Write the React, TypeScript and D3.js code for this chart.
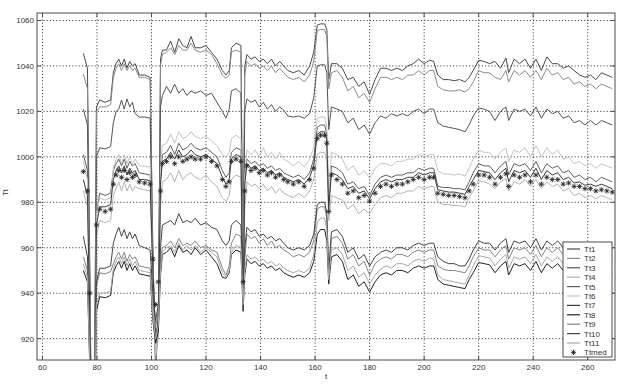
import React from 'react';
import * as d3 from 'd3';

const tValues = [
  75, 76.5, 77.3, 78, 79, 79.8, 81, 83, 85, 86,
  87, 88, 89, 90, 91, 92, 93, 94, 95.5, 97.5,
  99.5, 100.5, 101.5, 102.5, 103.3, 104, 105.5, 107, 108.5, 110,
  111.5, 113, 114.5, 116, 118, 120, 122, 124, 126, 127.3,
  128.5, 129.3, 131, 132.8, 133.6, 134.2, 135, 136.5, 138, 139.5,
  141, 142.5, 144, 145.5, 147, 148.5, 150, 152, 154, 156,
  158, 159.5, 160.8, 162, 163.5, 164.3, 165, 166, 168, 170,
  172, 174, 176, 178, 180, 182, 184, 186, 188, 190,
  192, 194, 196, 198, 200, 202, 203.5, 205, 207, 209,
  211, 213, 215, 216.5, 218, 220, 222, 224, 226, 228,
  230, 231, 233, 235, 237, 239, 241, 243, 245, 247,
  249, 251, 253, 255, 257, 259, 261, 263, 265, 267,
  269,
];

const tt1 = [
  1045.5, 1039, 960, 880, 880, 1022, 1025, 1024, 1025, 1037,
  1041, 1043, 1040, 1043, 1039, 1042, 1040, 1041, 1036, 1036,
  1035, 960, 905, 930, 1043, 1047, 1047, 1051, 1046, 1052,
  1049, 1048, 1053, 1048, 1048, 1049, 1046, 1043, 1038, 1036,
  1038, 1048, 1050, 1049, 945, 1040, 1045, 1043, 1044, 1042,
  1043, 1041, 1043, 1040, 1042, 1040, 1038, 1037, 1038, 1036,
  1040, 1046, 1058, 1058.5, 1058.5, 1056, 1034, 1041, 1041, 1039,
  1034, 1035, 1031, 1033, 1027.5, 1034, 1039, 1039, 1038, 1039,
  1038, 1040, 1041, 1043, 1041, 1042.5, 1042, 1036, 1034, 1034,
  1033.5, 1034, 1033, 1035, 1038, 1042.5, 1042, 1041, 1042, 1039,
  1043.5, 1037, 1043, 1041, 1043, 1039, 1043, 1038, 1044, 1041,
  1041, 1039, 1040, 1038, 1036, 1035, 1036, 1034, 1037, 1036,
  1035,
];

const tt2 = [
  1036.5, 1030, 950, 875, 880, 1020, 1022, 1022, 1023, 1035,
  1039, 1041, 1038, 1041, 1038, 1040, 1038, 1039, 1035, 1035,
  1034, 955, 910, 925, 1040, 1045, 1046, 1048, 1045, 1049,
  1047, 1047, 1050, 1047, 1046, 1047, 1045, 1041, 1036, 1034.5,
  1036, 1046, 1047, 1046, 942, 1036, 1042, 1040, 1041, 1039,
  1040, 1038, 1040, 1037, 1039, 1037, 1035, 1034, 1035, 1033,
  1036, 1042, 1055.5, 1056, 1056, 1053, 1030, 1037, 1038, 1035,
  1029, 1031, 1026, 1028, 1024, 1030, 1035, 1035, 1034, 1035,
  1034, 1036, 1036, 1038, 1036, 1038, 1038, 1031, 1029.5, 1029,
  1029, 1029.5, 1028.5, 1030, 1033, 1038, 1037, 1037, 1035, 1034,
  1038, 1033, 1038, 1036, 1038, 1035, 1038, 1034, 1039, 1036,
  1037, 1034, 1035, 1032, 1033, 1031, 1032, 1030, 1032, 1031,
  1030,
];

const tt3 = [
  1021, 1014, 950, 878, 880, 1000, 1004, 1003.5, 1004.5, 1015,
  1020, 1021, 1025, 1021, 1025.5, 1022, 1024, 1019, 1017.5, 1017.5,
  1017, 950, 912, 928, 1022, 1027, 1031, 1028, 1032, 1028,
  1030, 1027, 1029, 1028, 1029, 1027, 1028, 1024, 1020, 1017,
  1021, 1029, 1030, 1028, 940, 1020, 1025.5, 1024, 1025, 1022,
  1024, 1021, 1023, 1020, 1022, 1020.5, 1018, 1017.5, 1018, 1017,
  1019, 1026, 1040, 1040.5, 1040.5, 1037, 1012, 1022, 1021, 1020,
  1015, 1017, 1012, 1014, 1010, 1015, 1018, 1017, 1019, 1018,
  1019, 1018, 1020, 1021, 1019, 1021, 1021, 1015, 1013.5, 1013,
  1012.5, 1012, 1011, 1014, 1018, 1021.5, 1021, 1020, 1016, 1020,
  1022, 1016, 1021, 1020, 1021, 1018, 1022, 1017, 1021, 1019,
  1020, 1017, 1018, 1015, 1016, 1014, 1016, 1014, 1016, 1015,
  1014,
];

const tt4 = [
  985, 978, 930, 875, 876, 965, 972, 971, 972, 983,
  986, 989, 985, 989, 985, 988, 985, 987, 986, 985.5,
  985, 940, 912, 920, 978, 989, 990, 993, 989, 994,
  990, 992, 993, 991, 990, 992, 989, 987, 982, 980.5,
  983, 990, 992, 991, 935, 978, 989, 987, 988, 986,
  988, 985, 987, 984, 986, 984, 983, 982, 984, 982,
  985, 990, 1001, 1002, 1002, 998, 972, 983, 982, 981,
  977, 979, 975, 977, 975, 979, 982, 983, 982, 984,
  984, 985, 985, 987, 986, 987, 987, 980, 979, 979,
  978.5, 978.5, 978, 982, 985, 989.5, 989, 988, 986, 989,
  990.5, 985, 989, 988, 990, 987, 990, 986, 989, 987,
  988, 985, 986, 983, 984, 982, 983, 981.5, 983, 982,
  981,
];

const tt5 = [
  1001, 994, 940, 878, 880, 975, 984, 983, 984, 994,
  997, 999, 996, 999, 995, 998, 996, 997, 993, 992.5,
  992, 955, 918, 930, 990, 1001, 1002, 1005, 1001, 1006,
  1003, 1004, 1006, 1004, 1003, 1004, 1002, 1000, 994, 991,
  993, 1002, 1004, 1003, 938, 990, 999, 997, 998, 996,
  997, 995, 996, 994, 995, 993, 992, 991, 992, 990,
  993, 999, 1013, 1014, 1014, 1010, 980, 996, 995, 993,
  988, 989, 986, 987, 983, 988, 991, 992, 991, 992,
  992, 993, 993, 995, 994, 995, 995, 987, 986.5, 986.5,
  986, 986, 985.5, 989, 993, 997, 996, 996, 993, 996,
  998, 992, 997, 996, 997, 994, 998, 993, 997, 995,
  996, 993, 994, 991, 992, 990, 991, 989, 991, 990,
  989,
];

const tt6 = [
  998, 990, 940, 876, 878, 975, 982, 981, 982, 995,
  999, 1001, 997, 1001, 997, 1000, 997, 999, 996, 996,
  995.5, 950, 913, 925, 995, 1005, 1006, 1010, 1006, 1011,
  1008, 1009, 1011, 1009, 1008, 1009, 1007, 1005, 1001, 1000,
  1002, 1008, 1009.5, 1008, 940, 992, 1003, 1001, 1003, 1000,
  1004, 1000, 1002, 999, 1002, 999, 998, 996, 998, 995.5,
  999, 1004, 1017, 1017.5, 1017.5, 1013, 983, 1002, 1001, 999,
  994, 996, 992, 994, 990.5, 995, 997, 997, 996, 998,
  998, 999, 999, 1001, 1000, 1001, 1001, 994, 992.5, 992.5,
  992, 992.5, 991.5, 995, 999, 1003, 1002, 1002, 999, 1002,
  1004, 998, 1003, 1002, 1004, 1000, 1005, 1000, 1004, 1001,
  1003, 999, 1000, 997, 998, 996, 997, 995, 997, 996,
  995,
];

const tt7 = [
  990, 983, 935, 876, 878, 970, 978, 978, 979, 990,
  994, 996, 993, 996, 992, 995, 993, 994, 990, 990,
  989.5, 950, 920, 928, 988, 998, 999, 1002, 999, 1003,
  1000, 1001, 1003, 1001, 1000, 1001, 999, 997, 991, 988,
  990, 999, 1001, 1000, 936, 988, 997, 995, 996, 994,
  995, 993, 994, 992, 993, 991, 990, 989, 990, 988,
  991, 996, 1010, 1011, 1011, 1007, 977, 993, 992, 990,
  986, 987, 984, 985, 981.5, 986, 989, 990, 989, 990,
  990, 991, 991, 993, 992, 993, 993, 985.5, 985, 984.5,
  984.5, 984, 983.5, 987, 990, 994, 993.5, 993, 990, 993,
  995, 989, 994, 993, 994, 991, 995, 990, 994, 992,
  993, 990, 991, 988.5, 989, 987.5, 988, 987, 988, 987,
  986,
];

const tt8 = [
  950, 945, 910, 866, 868, 932, 938.5, 938, 939, 949,
  952, 954, 951, 954, 950, 953, 950, 952, 948.5, 948,
  947.5, 928, 918, 923, 948, 957, 958, 960, 956, 961,
  958, 959, 957, 960, 957, 959, 956, 953, 947, 946.5,
  949, 957, 959, 958, 932, 948, 955, 953, 954, 952,
  953, 951, 952, 950, 951, 949, 948, 947, 948, 947,
  949, 954, 966, 968, 968, 963, 944, 956, 957, 954,
  946, 948, 943, 945, 940.5, 945, 948, 949, 948, 950,
  950, 949, 951, 952, 951, 952, 952, 946, 944, 943.5,
  943, 942.5, 942, 946, 949, 953.5, 953, 952.5, 949, 952,
  954, 948, 953, 952, 953, 950, 954, 949, 953, 951,
  953, 950, 951, 949, 950, 948, 950, 949, 950, 949,
  949,
];

const tt9 = [
  956, 950, 915, 870, 872, 943, 949, 948.5, 949.5, 953,
  956, 958, 955, 958, 954, 957, 955, 956, 952, 951.5,
  951, 935, 925, 932, 955, 960, 961, 963, 960, 964,
  961, 962, 961, 963, 960, 961, 959, 958, 951, 948,
  952, 962, 966, 965, 938, 955, 966, 964, 965, 962,
  964, 961, 963, 960, 961, 959, 958, 956, 957, 956,
  958, 963, 977, 978, 978, 973, 948, 964, 965, 962,
  955, 957, 952, 954, 948, 953, 955, 956, 955, 957,
  957, 956, 958, 959, 958, 959, 959, 952, 950.5, 950,
  950, 949.5, 949, 952, 956, 960, 959, 959, 956, 959,
  961, 955, 960, 959, 960, 957, 961, 956, 960, 958,
  960, 957, 958, 956, 957, 955, 957, 956, 957, 956,
  956,
];

const tt10 = [
  965, 956, 920, 870, 870, 945, 951, 951, 952, 962,
  966, 969, 965, 968, 964, 967, 964, 966, 961, 960,
  959, 940, 928, 935, 960, 970, 971, 972, 970, 975,
  971, 972, 971, 973, 970, 971, 969, 968, 963, 961,
  963, 970, 972, 970, 942, 960, 969, 967, 968, 965,
  966, 964, 965, 963, 964, 962, 960, 959, 960, 959,
  961, 966, 979, 980, 980, 975, 950, 967, 968, 965,
  958, 960, 955, 957, 952, 956, 958, 959, 958, 960,
  960, 959, 961, 962, 961, 962, 962, 956, 954, 953,
  953, 952, 952, 955, 959, 963, 962, 962, 959, 962,
  964, 958, 963, 962, 963, 960, 964, 959, 963, 961,
  963, 960, 961, 959, 960, 958, 960, 959, 960, 959,
  959,
];

const tt11 = [
  953, 947, 912, 868, 870, 935, 940, 940, 941, 951,
  954, 956, 953, 956, 952, 955, 952, 954, 950, 949.5,
  949, 930, 920, 926, 950, 958, 960, 961, 958, 962,
  959, 961, 959, 961, 958, 960, 958, 956, 949, 947,
  950, 958, 961, 960, 935, 950, 957, 955, 956, 954,
  955, 953, 954, 952, 953, 951, 950, 949, 950, 949,
  951, 957, 971, 973, 973, 968, 946, 959, 960, 957,
  950, 952, 947, 949, 944, 948, 950.5, 952, 951, 953,
  953, 952, 954, 955, 954, 955.5, 955, 948, 946, 945.5,
  945, 944.5, 944, 948, 952, 956.5, 956, 955.5, 952, 955,
  957, 951, 956, 955, 956, 953, 957, 952, 956, 954,
  956, 953, 954, 952, 953, 951, 953, 952, 953, 952,
  952,
];

const ttmed = [
  993.5, 985, 940, 880, 880, 970, 977, 976, 977, 988,
  992, 994, 991, 994, 990, 993, 991, 992, 989, 988.5,
  988, 955, 935, 945, 985, 997, 998, 1000, 997, 1000,
  998, 999, 1000, 999, 999, 1000, 998, 996, 990, 987,
  989, 998, 999, 998, 945, 985, 996, 994, 995, 993,
  994, 992, 993, 991, 992, 990, 989, 988, 989, 987,
  990, 995, 1008, 1009.5, 1009.5, 1006, 976, 992, 990, 988,
  984, 985, 982, 983, 980.5, 984, 987, 988, 987, 988,
  988, 989, 990, 991, 990, 991, 991, 984, 983.5, 983,
  983, 982.5, 982, 985, 988, 992, 992, 991, 988, 991,
  992.5, 987, 992, 991, 992, 989, 992, 988, 991, 990,
  990, 988, 988.5, 987, 987, 986, 986, 985, 985.5, 985,
  984.5,
];

const seriesNames = ['Tt1', 'Tt2', 'Tt3', 'Tt4', 'Tt5', 'Tt6', 'Tt7', 'Tt8', 'Tt9', 'Tt10', 'Tt11'];
const seriesValues = [tt1, tt2, tt3, tt4, tt5, tt6, tt7, tt8, tt9, tt10, tt11];
const seriesColors = ['#4a4a4a', '#8c8c8c', '#555555', '#b4b4b4', '#606060', '#c4c4c4', '#3a3a3a', '#222222', '#858585', '#444444', '#a8a8a8'];

const xTicks = [60, 80, 100, 120, 140, 160, 180, 200, 220, 240, 260];
const yTicks = [920, 940, 960, 980, 1000, 1020, 1040, 1060];

const W = 623;
const H = 384;
const L = 37, R = 615, T = 13, B = 360;
const FONT = '"Liberation Sans", Arial, sans-serif';

export default function App() {
  const x = d3.scaleLinear().domain([58, 270]).range([L, R]);
  const y = d3.scaleLinear().domain([910.6, 1063.3]).range([B, T]);

  const mk = (vals: number[]) => {
    const n = Math.min(vals.length, tValues.length);
    const pts: [number, number][] = [];
    for (let i = 0; i < n; i++) pts.push([tValues[i], vals[i]]);
    return pts;
  };
  const line = d3.line<[number, number]>().x(d => x(d[0])).y(d => y(d[1]));

  const star = 'M-2.6,0H2.6M0,-2.6V2.6M-1.9,-1.9L1.9,1.9M-1.9,1.9L1.9,-1.9';
  const medPts = mk(ttmed);

  const legendX = 563, legendY = 242, legendW = 49, legendH = 115;
  const legendItems = [...seriesNames, 'Ttmed'];

  return (
    <svg width={W} height={H} style={{ position: 'absolute', left: 0, top: 0, background: '#fff' }} fontFamily={FONT}>
      <defs>
        <clipPath id="plotClip">
          <rect x={L} y={T} width={R - L} height={B - T} />
        </clipPath>
      </defs>
      <rect x={0} y={0} width={W} height={H} fill="#fff" />
      <rect x={L} y={T} width={R - L} height={B - T} fill="#fff" />
      <g stroke="#1a1a1a" strokeWidth={0.8} strokeDasharray="1.2,2">
        {xTicks.map(t => (
          <line key={'gx' + t} x1={x(t)} x2={x(t)} y1={T} y2={B} />
        ))}
        {yTicks.map(v => (
          <line key={'gy' + v} x1={L} x2={R} y1={y(v)} y2={y(v)} />
        ))}
      </g>
      <g clipPath="url(#plotClip)" fill="none">
        {seriesValues.map((vals, i) => (
          <path key={seriesNames[i]} d={line(mk(vals)) || ''} stroke={seriesColors[i]} strokeWidth={1} strokeLinejoin="round" />
        ))}
        <g stroke="#2a2a2a" strokeWidth={0.9}>
          {medPts.map((p, i) => (
            <path key={'m' + i} d={star} transform={`translate(${x(p[0])},${y(p[1])})`} />
          ))}
        </g>
      </g>
      <rect x={L} y={T} width={R - L} height={B - T} fill="none" stroke="#4d4d4d" strokeWidth={1} />
      <g stroke="#4d4d4d" strokeWidth={1}>
        {xTicks.map(t => (
          <g key={'tx' + t}>
            <line x1={x(t)} x2={x(t)} y1={B} y2={B - 4} />
            <line x1={x(t)} x2={x(t)} y1={T} y2={T + 4} />
          </g>
        ))}
        {yTicks.map(v => (
          <g key={'ty' + v}>
            <line x1={L} x2={L + 4} y1={y(v)} y2={y(v)} />
            <line x1={R} x2={R - 4} y1={y(v)} y2={y(v)} />
          </g>
        ))}
      </g>
      <g fontSize={8} fill="#333">
        {xTicks.map(t => (
          <text key={'lx' + t} x={x(t)} y={B + 10} textAnchor="middle">{t}</text>
        ))}
        {yTicks.map(v => (
          <text key={'ly' + v} x={L - 3} y={y(v) + 3} textAnchor="end">{v}</text>
        ))}
      </g>
      <text x={326} y={379} fontSize={8} fill="#333" textAnchor="middle">t</text>
      <text x={0} y={0} fontSize={8} fill="#333" textAnchor="middle" transform={`translate(8,${(T + B) / 2 + 6}) rotate(-90)`}>Tt</text>
      <g>
        <rect x={legendX} y={legendY} width={legendW} height={legendH} fill="#fff" stroke="#4d4d4d" strokeWidth={1} />
        {legendItems.map((name, i) => {
          const yy = legendY + 7 + i * 9.4;
          return (
            <g key={'lg' + name}>
              {i < seriesNames.length ? (
                <line x1={legendX + 4} x2={legendX + 17} y1={yy} y2={yy} stroke={seriesColors[i]} strokeWidth={1.2} />
              ) : (
                <path d={star} transform={`translate(${legendX + 10.5},${yy})`} stroke="#2a2a2a" strokeWidth={0.9} />
              )}
              <text x={legendX + 21} y={yy + 3} fontSize={8} fill="#333">{name}</text>
            </g>
          );
        })}
      </g>
    </svg>
  );
}
